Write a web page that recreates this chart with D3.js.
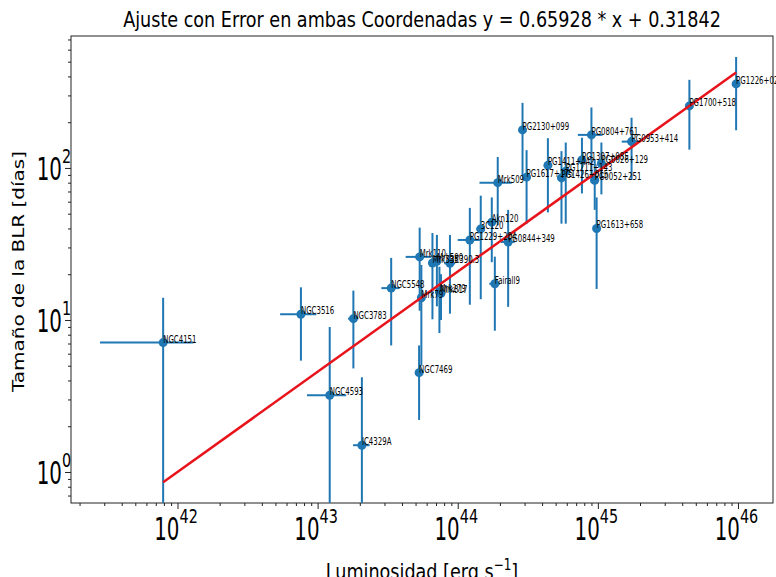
<!DOCTYPE html>
<html lang="es">
<head>
<meta charset="UTF-8">
<script src="https://cdn.jsdelivr.net/npm/d3@7"></script>
<style>
  body { margin: 0; background: #fff; }
  text { font-family: "DejaVu Sans", sans-serif; fill: #000; }
</style>
</head>
<body>
<script>
// objetos de la muestra (luminosidad en erg/s, tamaño de la BLR en días)
var names  = ['NGC4151','NGC3516','NGC3783','NGC4593','IC4329A','NGC7469','NGC5548','Mrk110','Mrk335','Mrk590','3C390.3','Mrk79','Mrk279','Mrk817','Fairall9','PG1229+204','3C120','Akn120','PG0844+349','Mrk509','PG2130+099','PG1617+175','PG1411+442','PG1426+015','PG1211+143','PG1307+085','PG0804+761','PG0052+251','PG0026+129','PG0953+414','PG1613+658','PG1700+518','PG1226+023']
var lum    = [7.9e41, 7.6e42, 1.8e43, 1.22e43, 2.07e43, 5.3e43, 3.35e43, 5.35e43, 6.6e43, 7.1e43, 8.8e43, 5.5e43, 7.4e43, 7.6e43, 1.84e44, 1.22e44, 1.46e44, 1.75e44, 2.29e44, 1.93e44, 2.9e44, 3.1e44, 4.4e44, 5.5e44, 5.9e44, 7.7e44, 9.0e44, 9.5e44, 1.06e45, 1.74e45, 9.8e44, 4.5e45, 9.7e45]
var lumErr = [5.1e41, 2.2e42, 1.5e42, 3.8e42, 2.8e42, 2e42, 5e42, 1.1e43, 4e42, 3e42, 8e42, 3e42, 5e42, 4e42, 1.6e43, 2.2e43, 1e43, 1e43, 2.6e43, 5e43, 1.5e43, 1.5e43, 2e43, 3e43, 3e43, 5e43, 1.8e44, 5e43, 6e43, 2.6e44, 5e43, 2e44, 3e44]
var tau    = [7.1, 10.9, 10.2, 3.2, 1.5, 4.5, 16.2, 26, 23.7, 24.3, 23.6, 14, 15.3, 15.0, 17.3, 33.6, 39.7, 44, 32.6, 80, 178, 87, 104, 86, 95, 113, 165, 83, 107, 149, 40, 256, 357]
var tauErr = [6.9, 5.5, 5.4, 5.8, 2.7, 2.3, 9.4, 14.5, 13.6, 12, 12.6, 9, 7.1, 5, 8.8, 21, 26, 20, 20.4, 38, 90, 44, 53, 43, 52, 45, 85, 30, 40, 65, 24, 124, 180]

// ajuste: log(tau/10) = a * log(L/1e44) + b
var fitSlope = 0.65928, fitIntercept = 0.31842

var xMajor = [1e42, 1e43, 1e44, 1e45, 1e46], xMajorExp = ['42', '43', '44', '45', '46']
var yMajor = [1, 10, 100], yMajorExp = ['0', '1', '2']

var width = 776, height = 577
var pL = 71, pR = 773, pT = 36, pB = 503

var svg = d3.select('body').append('svg').attr('width', width).attr('height', height)

var x = d3.scaleLog().domain([Math.pow(10, 41.24), Math.pow(10, 46.25)]).range([pL, pR])
var y = d3.scaleLog().domain([Math.pow(10, -0.204), Math.pow(10, 2.868)]).range([pB, pT])

// texto estrechado horizontalmente como en la figura original
function squashText(g, tx, ty, sx, str, size, anchor) {
  return g.append('text')
    .attr('transform', 'translate(' + tx + ',' + ty + ') scale(' + sx + ',1)')
    .attr('font-size', size)
    .attr('text-anchor', anchor || 'start')
    .text(str)
}

svg.append('clipPath').attr('id', 'plot')
  .append('rect').attr('x', pL).attr('y', pT).attr('width', pR - pL).attr('height', pB - pT)

// ejes
function minorTicks(scale) {
  return scale.ticks().filter(function(v) {
    var l = Math.log10(v); return Math.abs(l - Math.round(l)) > 1e-6
  })
}

var xg = svg.append('g').attr('transform', 'translate(0,' + pB + ')')
xg.call(d3.axisBottom(x).tickValues(xMajor).tickSize(6).tickFormat(''))
xg.append('g').call(d3.axisBottom(x).tickValues(minorTicks(x)).tickSize(3).tickFormat(''))

var yg = svg.append('g').attr('transform', 'translate(' + pL + ',0)')
yg.call(d3.axisLeft(y).tickValues(yMajor).tickSize(6).tickFormat(''))
yg.append('g').call(d3.axisLeft(y).tickValues(minorTicks(y)).tickSize(3).tickFormat(''))

svg.selectAll('.domain').remove()
svg.selectAll('.tick line').attr('stroke', '#222').attr('stroke-width', 1)

svg.append('rect').attr('x', pL).attr('y', pT).attr('width', pR - pL).attr('height', pB - pT)
  .attr('fill', 'none').attr('stroke', '#222').attr('stroke-width', 1)

// etiquetas de los ticks (10^n)
xMajor.forEach(function(v, i) {
  var cx = x(v)
  squashText(svg, cx + 2, pB + 37, 0.62, '10', 32, 'end')
  squashText(svg, cx + 2, pB + 20, 0.72, xMajorExp[i], 20, 'start')
})
yMajor.forEach(function(v, i) {
  var cy = y(v)
  squashText(svg, pL - 9, cy + 12, 0.62, '10', 32, 'end')
  squashText(svg, pL - 9, cy - 5, 0.72, yMajorExp[i], 20, 'start')
})

// barras de error
var plot = svg.append('g').attr('clip-path', 'url(#plot)')
var idx = d3.range(names.length)
var blue = '#1f77b4'

plot.selectAll('.ey').data(idx).enter().append('line')
  .attr('x1', function(i) { return x(lum[i]) })
  .attr('x2', function(i) { return x(lum[i]) })
  .attr('y1', function(i) { return y(Math.max(tau[i] - tauErr[i], 1e-3)) })
  .attr('y2', function(i) { return y(tau[i] + tauErr[i]) })
  .attr('stroke', blue).attr('stroke-width', 2)

plot.selectAll('.ex').data(idx).enter().append('line')
  .attr('x1', function(i) { return x(lum[i] - lumErr[i]) })
  .attr('x2', function(i) { return x(lum[i] + lumErr[i]) })
  .attr('y1', function(i) { return y(tau[i]) })
  .attr('y2', function(i) { return y(tau[i]) })
  .attr('stroke', blue).attr('stroke-width', 2)

plot.selectAll('circle').data(idx).enter().append('circle')
  .attr('cx', function(i) { return x(lum[i]) })
  .attr('cy', function(i) { return y(tau[i]) })
  .attr('r', 4.5).attr('fill', blue)

// recta de ajuste
var lx = d3.extent(lum)
var fit = lx.map(function(L) {
  return [L, 10 * Math.pow(10, fitSlope * Math.log10(L / 1e44) + fitIntercept)]
})
plot.append('path')
  .attr('d', d3.line().x(function(d) { return x(d[0]) }).y(function(d) { return y(d[1]) })(fit))
  .attr('stroke', '#e8141c').attr('stroke-width', 2.5).attr('fill', 'none')

// nombres
idx.forEach(function(i) {
  squashText(svg, x(lum[i]), y(tau[i]), 0.7, names[i], 10, 'start')
})

// títulos
squashText(svg, (pL + pR) / 2, 27, 0.8, 'Ajuste con Error en ambas Coordenadas y = 0.65928 * x + 0.31842', 22, 'middle')

var xl = svg.append('text')
  .attr('transform', 'translate(' + ((pL + pR) / 2) + ',579) scale(0.8,1)')
  .attr('font-size', 22).attr('text-anchor', 'middle')
xl.append('tspan').text('Luminosidad [erg s')
xl.append('tspan').attr('dy', -9).attr('font-size', 15).text('−1')
xl.append('tspan').attr('dy', 9).text(']')

svg.append('text')
  .attr('transform', 'translate(24,' + ((pT + pB) / 2 + 2) + ') scale(0.75,1) rotate(-90)')
  .attr('font-size', 20).attr('text-anchor', 'middle')
  .text('Tamaño de la BLR [días]')
</script>
</body>
</html>
